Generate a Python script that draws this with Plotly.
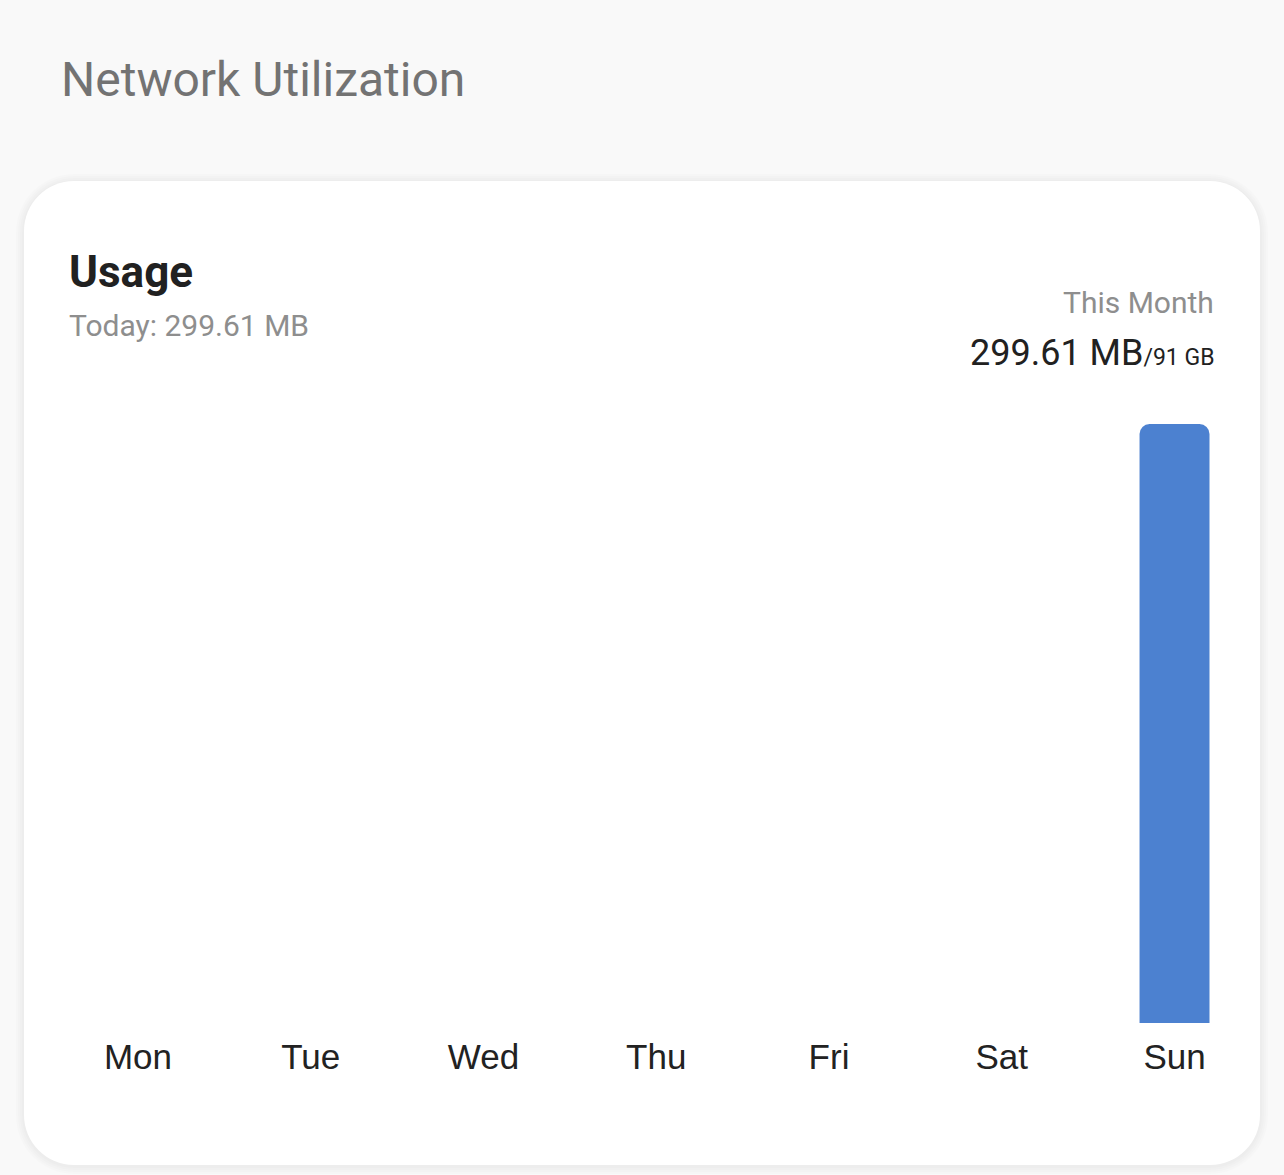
import plotly.graph_objects as go

W, H = 1284, 1175

# ---- data ----
days = ["Mon", "Tue", "Wed", "Thu", "Fri", "Sat", "Sun"]
usage_mb = [0, 0, 0, 0, 0, 0, 299.61]
today_label = "Today: 299.61 MB"
month_used = "299.61 MB"
month_quota = "/91 GB"

def px(x):
    return x / W

def py(y):
    return 1 - y / H

def rrect(x0, y0, x1, y1, r):
    k = 0.5523 * r
    pts = [
        f"M{px(x0 + r)},{py(y0)}",
        f"L{px(x1 - r)},{py(y0)}",
        f"C{px(x1 - r + k)},{py(y0)} {px(x1)},{py(y0 + r - k)} {px(x1)},{py(y0 + r)}",
        f"L{px(x1)},{py(y1 - r)}",
        f"C{px(x1)},{py(y1 - r + k)} {px(x1 - r + k)},{py(y1)} {px(x1 - r)},{py(y1)}",
        f"L{px(x0 + r)},{py(y1)}",
        f"C{px(x0 + r - k)},{py(y1)} {px(x0)},{py(y1 - r + k)} {px(x0)},{py(y1 - r)}",
        f"L{px(x0)},{py(y0 + r)}",
        f"C{px(x0)},{py(y0 + r - k)} {px(x0 + r - k)},{py(y0)} {px(x0 + r)},{py(y0)}",
        "Z",
    ]
    return " ".join(pts)

shapes = []
# soft shadow
for i, op in enumerate([0.012, 0.012, 0.012, 0.012]):
    d = 2 * (i + 1)
    shapes.append(dict(type="path", xref="paper", yref="paper", layer="below",
                       path=rrect(24 - d, 181 - d + 1, 1260 + d, 1165 + d + 1, 50 + d),
                       fillcolor=f"rgba(0,0,0,{op})", line=dict(width=0)))
shapes.append(dict(type="path", xref="paper", yref="paper", layer="below",
                   path=rrect(24, 181, 1260, 1165, 50),
                   fillcolor="#ffffff", line=dict(width=0)))

fig = go.Figure()
fig.add_trace(go.Bar(
    x=days, y=usage_mb, width=0.405,
    marker=dict(color="#4c81d0", cornerradius=10, line=dict(width=0)),
    hoverinfo="skip",
))

x_left, x_right = 51.6, 1260.9
y_bottom, y_top = 1023, 424

annotations = [
    dict(text="Network Utilization", x=px(59), y=py(80), xanchor="left", yanchor="middle",
         font=dict(family="Roboto", size=48, color="#737373")),
    dict(text="<b>Usage</b>", x=px(67), y=py(272), xanchor="left", yanchor="middle",
         font=dict(family="Roboto", size=44, color="#212121")),
    dict(text=today_label, x=px(67), y=py(325), xanchor="left", yanchor="middle",
         font=dict(family="Roboto", size=30, color="#8e8e8e")),
    dict(text="This Month", x=px(1216), y=py(303), xanchor="right", yanchor="middle",
         font=dict(family="Roboto", size=30, color="#8e8e8e")),
    dict(text=f"{month_used}<span style='font-size:23px'>{month_quota}</span>",
         x=px(1217), y=py(353), xanchor="right", yanchor="middle",
         font=dict(family="Roboto", size=36, color="#212121")),
]
for a in annotations:
    a.update(xref="paper", yref="paper", showarrow=False)

fig.update_layout(
    width=W, height=H,
    margin=dict(l=0, r=0, t=0, b=0),
    paper_bgcolor="#f9f9f9",
    plot_bgcolor="rgba(0,0,0,0)",
    showlegend=False,
    shapes=shapes,
    annotations=annotations,
    xaxis=dict(domain=[px(x_left), px(x_right)], range=[-0.5, 6.5],
               showgrid=False, zeroline=False, showline=False, ticks="",
               tickfont=dict(family="Liberation Sans, Arial", size=35, color="#222222"),
               ticklabelstandoff=10, fixedrange=True),
    yaxis=dict(domain=[py(y_bottom), py(y_top)], range=[0, max(usage_mb)],
               showgrid=False, zeroline=False, showline=False, showticklabels=False,
               ticks="", fixedrange=True),
)

fig.write_html("out.html", config={"displayModeBar": False})
